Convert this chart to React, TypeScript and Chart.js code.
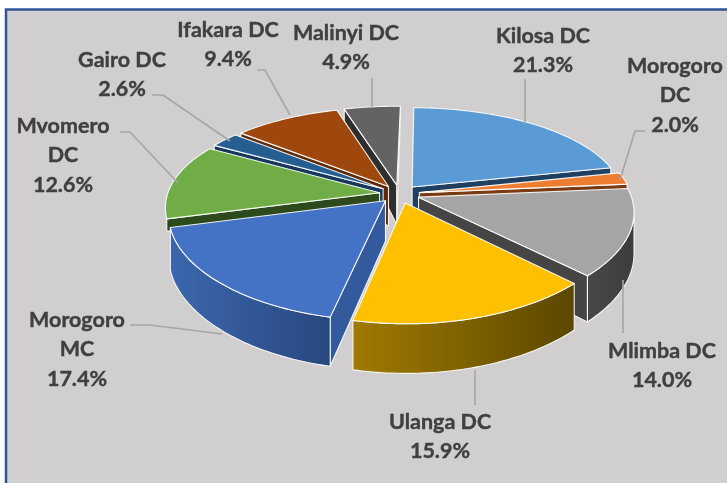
import React, { useEffect, useRef } from "react";
import { Chart, registerables } from "chart.js";

Chart.register(...registerables);

const categories = ["Kilosa DC", "Morogoro DC", "Mlimba DC", "Ulanga DC", "Morogoro MC", "Mvomero DC", "Gairo DC", "Ifakara DC", "Malinyi DC"];
const percentages = [21.3, 2.0, 14.0, 15.9, 17.4, 12.6, 2.6, 9.4, 4.9];
const topColors = ["#5b9bd5", "#ed7d31", "#a5a5a5", "#ffc000", "#4472c4", "#70ad47", "#255e91", "#9e480e", "#636363"];
const cutColors = ["#1f4060", "#7a3a12", "#454545", "#7a5c00", "#335a9c", "#2c4a1c", "#16385a", "#5e2b08", "#2e2e2e"];
const outerLight = ["#3d6e9c", "#a85a22", "#484848", "#a07a00", "#3c67ae", "#4f7a32", "#1c4870", "#70330a", "#464646"];
const outerDark = ["#2c5275", "#7a4018", "#3c3c3c", "#5c4700", "#28477f", "#3a5a24", "#153650", "#4e2407", "#333333"];

// label layout: wrapped name lines, centre x, first middle y
const labelLines = [["Kilosa DC"], ["Morogoro", "DC"], ["Mlimba DC"], ["Ulanga DC"], ["Morogoro", "MC"], ["Mvomero", "DC"], ["Gairo DC"], ["Ifakara DC"], ["Malinyi DC"]];
const labelX = [543, 675, 662, 440, 77, 63, 122, 228, 346];
const labelY = [36, 66, 351, 422, 320, 126, 60, 30, 33];
const leaderLines = [
  [[525, 79], [525, 124]],
  [[645, 131], [635, 131], [620, 180]],
  [[623, 280], [623, 333]],
  [[475, 370], [475, 405]],
  [[130, 325], [150, 325], [222, 334]],
  [[120, 132], [130, 132], [178, 183]],
  [[152, 95], [163, 95], [230, 141]],
  [[257, 70], [265, 70], [290, 115]],
  [[372, 78], [372, 107]],
];

// projection of the exploded disc
const CX = 399.5, CY = 194, R = 212, TILT = 0.452, PERSPECTIVE = 0.178, PERSPECTIVE_X = 0.14, DEPTH = 40, EXPLODE = 0.095, BACK_RIM_DEPTH = 12;

type P = { x: number; y: number; w: number };
const project = (X: number, Y: number): P => {
  const w = 1 - PERSPECTIVE * Y;
  return { x: CX + (R * X) / (1 - PERSPECTIVE_X * Y), y: CY + (R * TILT * Y) / w, w };
};
const drop = (p: P) => ({ x: p.x, y: p.y + DEPTH / p.w });

const pie3d = {
  id: "pie3d",
  beforeDraw(chart: any) {
    const ctx = chart.ctx;
    ctx.save();
    ctx.fillStyle = "#ffffff";
    ctx.fillRect(0, 0, chart.width, chart.height);
    ctx.fillStyle = "#d0cecf";
    ctx.strokeStyle = "#2f5597";
    ctx.lineWidth = 2.5;
    ctx.beginPath();
    ctx.rect(6, 9.5, chart.width + 20, chart.height + 20);
    ctx.fill();
    ctx.stroke();
    ctx.restore();
  },
  beforeDatasetDraw(chart: any) {
    const ctx = chart.ctx;
    const arcs = chart.getDatasetMeta(0).data;
    const order = arcs.map((_: any, i: number) => i).sort((a: number, b: number) => {
      const m = (e: any) => Math.sin((e.startAngle + e.endAngle) / 2);
      return m(arcs[a]) - m(arcs[b]);
    });
    ctx.save();
    ctx.lineJoin = "round";
    for (const i of order) {
      const e = arcs[i];
      const mid = (e.startAngle + e.endAngle) / 2;
      const ox = Math.cos(mid) * EXPLODE, oy = Math.sin(mid) * EXPLODE;
      const apex = project(ox, oy);
      const steps = Math.max(4, Math.ceil((e.endAngle - e.startAngle) / 0.02));
      const rim: P[] = [];
      for (let s = 0; s <= steps; s++) {
        const a = e.startAngle + ((e.endAngle - e.startAngle) * s) / steps;
        rim.push(project(ox + Math.cos(a), oy + Math.sin(a)));
      }
      const quad = (pts: { x: number; y: number }[], fill: any) => {
        ctx.beginPath();
        pts.forEach((p, k) => (k ? ctx.lineTo(p.x, p.y) : ctx.moveTo(p.x, p.y)));
        ctx.closePath();
        ctx.fillStyle = fill;
        ctx.fill();
        ctx.strokeStyle = "rgba(255,255,255,0.9)";
        ctx.lineWidth = 1.1;
        ctx.stroke();
      };
      const back = Math.sin(mid) < 0;
      const rimDrop = (p: P) => (back ? { x: p.x, y: p.y + BACK_RIM_DEPTH } : drop(p));
      // cut faces, shown only if they face the viewer
      const first = rim[0], last = rim[rim.length - 1];
      if (first.x < apex.x) quad([apex, first, rimDrop(first), drop(apex)], cutColors[i]);
      if (apex.x < last.x) quad([last, apex, drop(apex), rimDrop(last)], cutColors[i]);
      // outer wall: only the front half of the pie shows one
      const visible: P[][] = [];
      let run: P[] = [];
      if (!back) {
        for (let s = 0; s < rim.length - 1; s++) {
          if (rim[s + 1].x < rim[s].x) {
            if (!run.length) run.push(rim[s]);
            run.push(rim[s + 1]);
          } else if (run.length) {
            visible.push(run);
            run = [];
          }
        }
      }
      if (run.length) visible.push(run);
      for (const part of visible) {
        const g = ctx.createLinearGradient(part[part.length - 1].x, 0, part[0].x, 0);
        g.addColorStop(0, outerLight[i]);
        g.addColorStop(1, outerDark[i]);
        quad([...part, ...part.slice().reverse().map(drop)], g);
      }
      // top face
      quad([apex, ...rim], e.options.backgroundColor);
    }
    ctx.restore();
    return false;
  },
  afterDraw(chart: any) {
    const ctx = chart.ctx;
    ctx.save();
    ctx.strokeStyle = "#a6a6a6";
    ctx.lineWidth = 1.6;
    for (const line of leaderLines) {
      ctx.beginPath();
      line.forEach((p, k) => (k ? ctx.lineTo(p[0], p[1]) : ctx.moveTo(p[0], p[1])));
      ctx.stroke();
    }
    ctx.fillStyle = "#404040";
    ctx.strokeStyle = "#404040";
    ctx.lineWidth = 0.4;
    ctx.font = 'bold 21.5px Lato, "Open Sans", sans-serif';
    ctx.textAlign = "center";
    ctx.textBaseline = "middle";
    categories.forEach((_, i) => {
      const lines = [...labelLines[i], percentages[i].toFixed(1) + "%"];
      lines.forEach((t, k) => {
        ctx.fillText(t, labelX[i], labelY[i] + k * 29.5);
        ctx.strokeText(t, labelX[i], labelY[i] + k * 29.5);
      });
    });
    ctx.restore();
  },
};

export default function App() {
  const ref = useRef<HTMLCanvasElement>(null);
  useEffect(() => {
    document.body.style.margin = "0";
    const chart = new Chart(ref.current as HTMLCanvasElement, {
      type: "pie",
      data: {
        labels: categories,
        datasets: [{ data: percentages, backgroundColor: topColors, borderColor: "#ffffff", borderWidth: 1 }],
      },
      options: {
        responsive: false,
        animation: false,
        rotation: 1,
        plugins: { legend: { display: false }, tooltip: { enabled: false } },
      },
      plugins: [pie3d],
    } as any);
    return () => chart.destroy();
  }, []);
  return <canvas ref={ref} width={727} height={483} style={{ display: "block" }} />;
}
